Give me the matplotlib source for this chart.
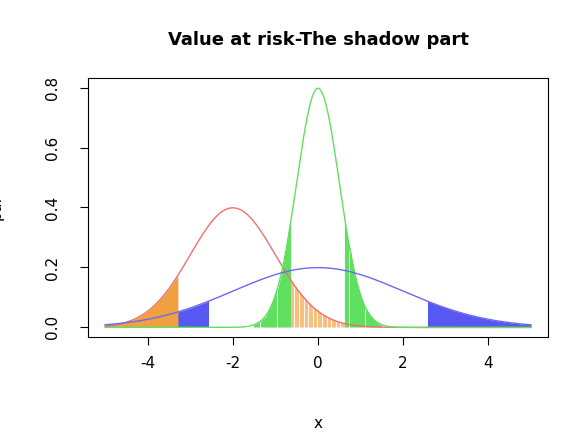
import numpy as np
import matplotlib
matplotlib.use("Agg")
import matplotlib.pyplot as plt

means = [-2.0, 0.0, 0.0]
sds = [1.0, 0.5, 2.0]
colors = ["#f07070", "#60e060", "#6a6af0"]
tail_prob_z = 1.2816  # 10% tail
xticks = [-4, -2, 0, 2, 4]
yticks = [0.0, 0.2, 0.4, 0.6, 0.8]

def pdf(x, m, s):
    return np.exp(-0.5 * ((x - m) / s) ** 2) / (s * np.sqrt(2 * np.pi))

fig = plt.figure(figsize=(5.86, 4.44), dpi=100)
ax = fig.add_axes([88/586, 1-337/444, 460/586, 259/444])
x = np.linspace(-5, 5, 1001)

mb, sb = means[2], sds[2]
q = sb * tail_prob_z
xl = x[x <= mb - q]; xr = x[x >= mb + q]
ax.fill_between(xl, 0, pdf(xl, mb, sb), color="#3a3af0", alpha=0.85, lw=0)
ax.fill_between(xr, 0, pdf(xr, mb, sb), color="#3a3af0", alpha=0.85, lw=0)
mr, sr = means[0], sds[0]
xo = x[x <= mr - sr * tail_prob_z]
ax.fill_between(xo, 0, pdf(xo, mr, sr), color="#f0a040", lw=0)
mg, sg = means[1], sds[1]
qg = sg * tail_prob_z
for xv in np.arange(-1.5, -qg, 0.025):
    ax.vlines(xv, 0, pdf(xv, mg, sg), color="#60e060", lw=0.8)
for xv in np.arange(qg, 1.5, 0.025):
    ax.vlines(xv, 0, pdf(xv, mg, sg), color="#60e060", lw=0.8)
for xv in np.arange(-qg, qg, 0.03):
    ax.vlines(xv, 0, pdf(xv, mr, sr), color="#f5c080", lw=0.8)

for m, s, c in zip(means, sds, colors):
    ax.plot(x, pdf(x, m, s), color=c, lw=1)

ax.set_xlim(-5.4, 5.4)
ax.set_ylim(-0.032, 0.832)
ax.set_xticks(xticks)
ax.set_xticklabels([str(t) for t in xticks], fontsize=11)
ax.set_yticks(yticks)
ax.set_yticklabels([f"{t:.1f}" for t in yticks], rotation=90, va="center", fontsize=11)
ax.tick_params(axis="y", pad=14, length=6)
ax.tick_params(axis="x", pad=8, length=6)
ax.set_xlabel("x", fontsize=11, labelpad=32)
ax.set_ylabel("pdf", fontsize=11, labelpad=30)
ax.set_title("Value at risk-The shadow part", fontsize=13, fontweight="bold", pad=24)
fig.savefig("out.png", dpi=100, facecolor="white")
